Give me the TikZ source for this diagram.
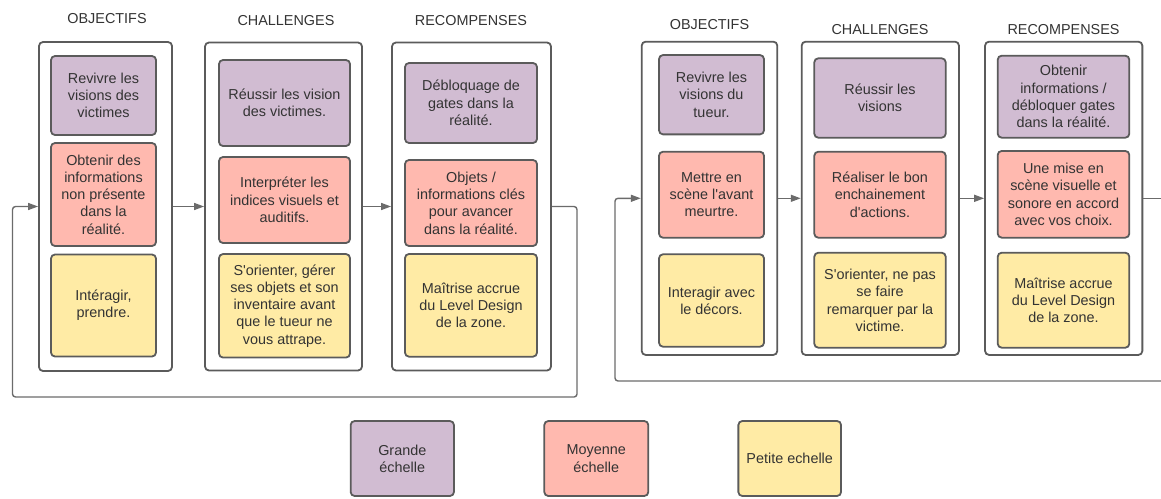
\documentclass[tikz,border=0pt]{standalone}
\usepackage{fontspec}
\setmainfont{Liberation Sans}
\usetikzlibrary{arrows.meta}
\definecolor{edge}{HTML}{5B5B5B}
\definecolor{txt}{HTML}{333333}
\definecolor{grande}{HTML}{D1BCD2}
\definecolor{moyenne}{HTML}{FFB9AF}
\definecolor{petite}{HTML}{FFEBA5}

\begin{document}
\begin{tikzpicture}[x=1pt,y=-1pt,every node/.style={font=\fontsize{14.4}{17.3}\selectfont,text=txt},
col/.style={draw=edge,line width=1.8pt,rounded corners=4pt,fill=white,inner sep=0pt},
card/.style={draw=edge,line width=1.8pt,rounded corners=4pt,align=center,inner sep=0pt},
big/.style={card,fill=grande},mid/.style={card,fill=moyenne},small/.style={card,fill=petite},
link/.style={line width=1.4pt,draw=edge!90,rounded corners=3pt},
arrow/.style={link,-{Triangle[length=10pt,width=7pt]}}]
\useasboundingbox (0,0) rectangle (1161,498);
\node (t1) at (107,19) {OBJECTIFS};
\node (t2) at (286,21) {CHALLENGES};
\node (t3) at (471,21) {RECOMPENSES};
\node (t4) at (709.5,25) {OBJECTIFS};
\node (t5) at (880,30) {CHALLENGES};
\node (t6) at (1063.5,30) {RECOMPENSES};
\node[col,minimum width=133pt,minimum height=329pt] (o1) at (105.5,206.5) {};
\node[col,minimum width=157pt,minimum height=328pt] (o2) at (283.5,206.5) {};
\node[col,minimum width=159pt,minimum height=328pt] (o3) at (471.5,206.5) {};
\node[col,minimum width=135.6pt,minimum height=313.3pt] (o4) at (709.5,198.3) {};
\node[col,minimum width=157.3pt,minimum height=313.3pt] (o5) at (880.3,198.3) {};
\node[col,minimum width=157.3pt,minimum height=313.3pt] (o6) at (1063.7,198.3) {};
\node[big,minimum width=105pt,minimum height=79pt] (p1) at (103.5,95.5) {Revivre les\\visions des\\victimes};
\node[mid,minimum width=105pt,minimum height=103pt] (r1) at (103.5,194.5) {Obtenir des\\informations\\non présente\\dans la\\réalité.};
\node[small,minimum width=105pt,minimum height=102pt] (y1) at (103.5,305.5) {Intéragir,\\prendre.};
\node[big,minimum width=131pt,minimum height=86pt] (p2) at (284.5,103) {Réussir les vision\\des victimes.};
\node[mid,minimum width=131pt,minimum height=86pt] (r2) at (284.5,200) {Interpréter les\\indices visuels et\\auditifs.};
\node[small,minimum width=131pt,minimum height=103.5pt] (y2) at (284.5,305.8) {S\textquotesingle orienter, gérer\\ses objets et son\\inventaire avant\\que le tueur ne\\vous attrape.};
\node[big,minimum width=132pt,minimum height=80pt] (p3) at (471,103) {Débloquage de\\gates dans la\\réalité.};
\node[mid,minimum width=132pt,minimum height=86pt] (r3) at (471,203) {Objets /\\informations clés\\pour avancer\\dans la réalité.};
\node[small,minimum width=132pt,minimum height=102.7pt] (y3) at (471,305.3) {Maîtrise accrue\\du Level Design\\de la zone.};
\node[big,minimum width=105pt,minimum height=79.3pt] (p4) at (711.5,94.7) {Revivre les\\visions du\\tueur.};
\node[mid,minimum width=105pt,minimum height=86pt] (r4) at (711.5,194.7) {Mettre en\\scène l\textquotesingle avant\\meurtre.};
\node[small,minimum width=105pt,minimum height=92.4pt] (y4) at (711.5,300.5) {Interagir avec\\le décors.};
\node[big,minimum width=131.4pt,minimum height=79.4pt] (p5) at (880,98) {Réussir les\\visions};
\node[mid,minimum width=131.4pt,minimum height=86pt] (r5) at (880,194.7) {Réaliser le bon\\enchainement\\d\textquotesingle actions.};
\node[small,minimum width=131.4pt,minimum height=95pt] (y5) at (880,300.2) {S\textquotesingle orienter, ne pas\\se faire\\remarquer par la\\victime.};
\node[big,minimum width=131.6pt,minimum height=82pt] (p6) at (1063.5,96.7) {Obtenir\\informations /\\débloquer gates\\dans la réalité.};
\node[mid,minimum width=131.6pt,minimum height=86.7pt] (r6) at (1063.5,194.3) {Une mise en\\scène visuelle et\\sonore en accord\\avec vos choix.};
\node[small,minimum width=131.6pt,minimum height=95pt] (y6) at (1063.5,300.2) {Maîtrise accrue\\du Level Design\\de la zone.};
\node[big,minimum width=103.3pt,minimum height=75pt] (lg) at (402.3,458.5) {Grande\\échelle};
\node[mid,minimum width=104pt,minimum height=75pt] (lm) at (596.3,458.5) {Moyenne\\échelle};
\node[small,minimum width=102.7pt,minimum height=75pt] (lp) at (789.7,458.5) {Petite echelle};
\coordinate (lpR) at (577,397);
\coordinate (lpL) at (12.5,397);
\coordinate (edgeR) at (1161,198.3);
\coordinate (edgeB) at (1161,381);
\coordinate (lpL2) at (615,381);
\draw[arrow] (o1)--(o2);\draw[arrow] (o2)--(o3);
\draw[arrow] (o3.east) -| (lpR) -- (lpL) |- (o1.west);
\draw[arrow] (o4)--(o5);\draw[arrow] (o5)--(o6);
\draw[link] (o6.east) -- (edgeR);
\draw[arrow] (edgeB) -- (lpL2) |- (o4.west);
\end{tikzpicture}
\end{document}
